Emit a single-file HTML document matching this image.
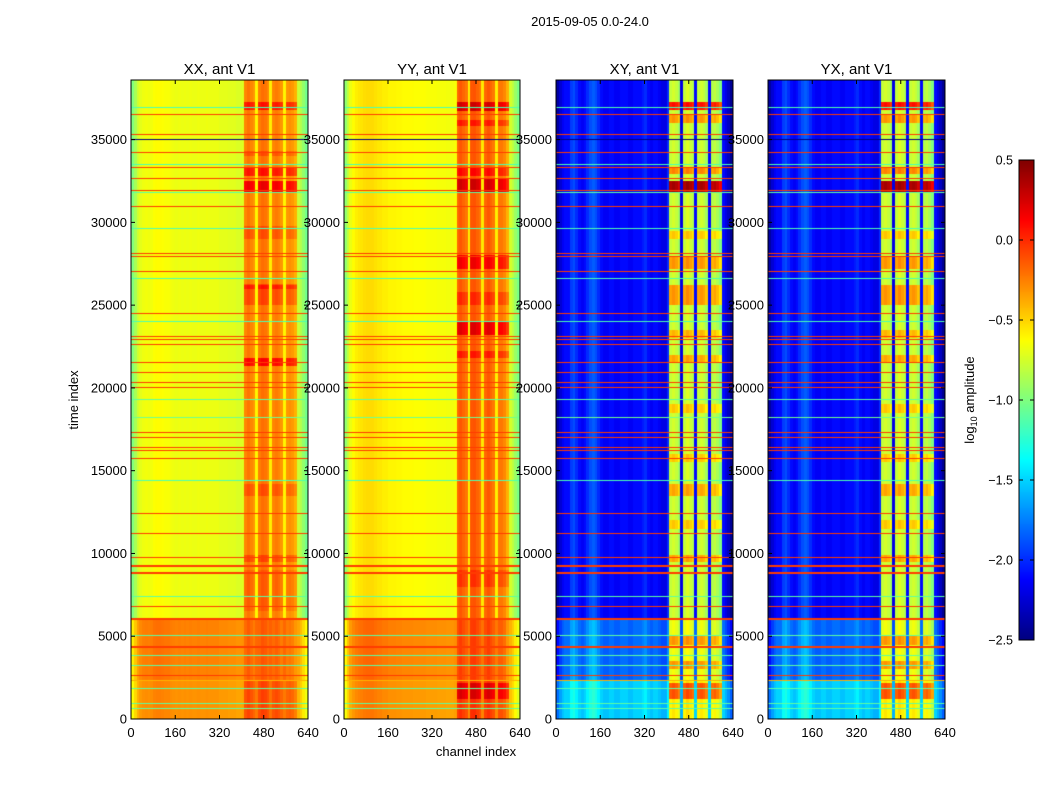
<!DOCTYPE html>
<html><head><meta charset="utf-8">
<style>
body{margin:0;background:#fff;width:1050px;height:800px;overflow:hidden;position:relative;font-family:"Liberation Sans",sans-serif}
canvas{position:absolute}
svg{position:absolute;left:0;top:0}
</style></head>
<body>
<canvas id="c0" width="177" height="639" style="left:131px;top:80px"></canvas>
<canvas id="c1" width="176" height="639" style="left:344px;top:80px"></canvas>
<canvas id="c2" width="177" height="639" style="left:556px;top:80px"></canvas>
<canvas id="c3" width="177" height="639" style="left:768px;top:80px"></canvas>
<canvas id="cb" width="15" height="480" style="left:1019px;top:160px"></canvas>
<svg id="ov" width="1050" height="800"></svg>
<script>
// ---- data ----
const panelTitles = ["XX, ant V1","YY, ant V1","XY, ant V1","YX, ant V1"];
const yTicks = [0,5000,10000,15000,20000,25000,30000,35000];
const xTicks = [0,160,320,480,640];
const cbTicks = [-2.5,-2.0,-1.5,-1.0,-0.5,0.0,0.5];
const tMax = 38600;
// column profiles, 64 bands of 10 channels
const profXX = [-1.0,-0.88,-0.76,-0.7,-0.67,-0.66,-0.67,-0.66,-0.63,-0.62,-0.62,-0.63,-0.64,-0.64,-0.66,-0.67,-0.68,-0.67,-0.68,-0.67,-0.68,-0.67,-0.68,-0.68,-0.67,-0.68,-0.68,-0.67,-0.68,-0.68,-0.68,-0.68,-0.7,-0.7,-0.7,-0.71,-0.71,-0.71,-0.73,-0.73,-0.72,-0.27,-0.22,-0.27,-0.32,-0.6,-0.25,-0.2,-0.22,-0.27,-0.58,-0.27,-0.24,-0.27,-0.32,-0.6,-0.32,-0.3,-0.33,-0.4,-0.78,-0.85,-0.94,-1.04];
const profYY = [-0.95,-0.8,-0.68,-0.62,-0.58,-0.56,-0.55,-0.53,-0.52,-0.52,-0.52,-0.54,-0.56,-0.56,-0.58,-0.58,-0.6,-0.6,-0.6,-0.61,-0.61,-0.62,-0.62,-0.62,-0.62,-0.63,-0.63,-0.63,-0.63,-0.63,-0.64,-0.64,-0.64,-0.64,-0.65,-0.65,-0.65,-0.66,-0.66,-0.66,-0.64,-0.18,-0.13,-0.18,-0.23,-0.58,-0.13,-0.12,-0.17,-0.22,-0.56,-0.18,-0.13,-0.18,-0.23,-0.58,-0.23,-0.23,-0.28,-0.4,-0.75,-0.82,-0.92,-1.02];
const profXY = [-2.4,-2.25,-2.15,-2.1,-2.1,-1.95,-1.9,-2.0,-2.1,-2.15,-2.1,-2.0,-1.9,-1.85,-1.9,-2.0,-2.1,-2.15,-2.15,-2.1,-2.1,-2.15,-2.15,-2.1,-2.1,-2.1,-2.15,-2.15,-2.1,-2.1,-2.1,-2.05,-2.0,-2.1,-2.15,-2.1,-2.1,-2.15,-2.2,-2.2,-2.0,-0.8,-0.75,-0.8,-0.9,-2.2,-0.8,-0.72,-0.78,-0.85,-2.1,-0.8,-0.76,-0.8,-0.9,-2.1,-0.85,-0.8,-0.88,-1.0,-2.1,-2.2,-2.3,-2.45];
const profYX = profXY.slice();
const profiles = [profXX, profYY, profXY, profYX];
// time segments
const segStart = [0,2300,6100];
const segEnd   = [2300,6100,38600];
const bgOffXX = [0.37,0.42,0], bandOffXX = [0.15,0.08,0];
const bgOffYY = [0.3,0.35,0], bandOffYY = [0.12,0.08,0];
const bgOffXY = [0.6,0.3,0], bandOffXY = [0.2,0.1,0];
const bgOffs = [bgOffXX,bgOffYY,bgOffXY,bgOffXY];
const bandOffs = [bandOffXX,bandOffYY,bandOffXY,bandOffXY];
// band-region blocks: start, end, added value
const blkStartXX = [31800,36800,32800,21300,25000,29000,9500,26000,34000,6500,13500], blkEndXX=[32500,37300,33300,21800,26200,29800,9900,26300,34300,9000,14200], blkValXX=[0.4,0.3,0.3,0.35,0.15,0.12,0.15,0.15,0.12,0.08,0.12];
const blkStartYY = [31800,36700,32800,23200,27200,21800,1200,8000,25000,35800], blkEndYY=[32600,37300,33300,24000,28000,22200,2200,9000,25800,36200], blkValYY=[0.4,0.4,0.25,0.35,0.3,0.2,0.25,0.12,0.15,0.2];
const blkStartXY = [31800,36800,25000,13500,27200,21500,1200,9500,36000,32900,23000,29000,4500,3000,18500,15500,11500], blkEndXY=[32500,37300,26200,14200,27900,22000,2200,9900,36500,33300,23500,29500,5000,3500,19000,16000,12000], blkValXY=[1.15,0.85,0.45,0.4,0.45,0.4,0.45,0.4,0.45,0.5,0.35,0.3,0.35,0.35,0.3,0.3,0.3];
const blkStart=[blkStartXX,blkStartYY,blkStartXY,blkStartXY], blkEnd=[blkEndXX,blkEndYY,blkEndXY,blkEndXY], blkVal=[blkValXX,blkValYY,blkValXY,blkValXY];
// horizontal RFI lines: time, duration, value
const redT = [36500,35300,35000,34200,33300,32600,31900,30900,28100,27900,27000,24500,23100,22900,22600,21500,20900,20300,20000,17300,17000,16400,16200,15700,12400,11200,9700,9200,8800,6800,6000,4300,2600,2300];
const redD = [40,40,40,80,40,40,60,60,40,100,40,40,60,40,40,40,40,40,60,60,60,40,40,40,40,40,60,140,120,40,100,100,60,100];
const redV = [-0.05,-0.05,-2.5,-0.05,-0.05,-0.05,-0.05,-0.05,-0.05,-0.05,-0.05,-0.05,-0.05,-0.05,-0.05,-0.05,-0.05,-0.05,-0.05,-0.05,-0.05,-0.05,-0.05,-0.05,-0.05,-0.05,-0.05,-0.05,-0.05,-0.05,-0.05,-0.05,-0.05,-0.4];
const cyanT = [36900,33500,31800,29600,26600,24000,19300,18200,14400,7400,5000,3800,3200,1800,900,600];
const cyanD = [40,40,40,40,40,40,40,80,40,40,60,40,40,40,40,40];
const cyanV = [-1.15,-1.15,-1.1,-1.15,-1.15,-1.15,-1.1,-1.05,-1.15,-1.1,-1.1,-1.1,-1.1,-1.1,-1.1,-1.1];
const vmin=-2.5, vmax=0.5;

function jet(v){
  let x=(v-vmin)/(vmax-vmin); x=Math.max(0,Math.min(1,x));
  const f=(a)=>Math.max(0,Math.min(1,a));
  const r=f(1.5-Math.abs(4*x-3)), g=f(1.5-Math.abs(4*x-2)), b=f(1.5-Math.abs(4*x-1));
  return [r*255|0,g*255|0,b*255|0];
}
const cx=(p)=>[131,344,556,768][p];
const W=[177,176,177,177];
function yOf(t){return 719-t/tMax*639;}
function xOf(p,c){return cx(p)+c/640*W[p];}
function rowsOf(t,d,h){
  const a=Math.floor(h-(t+d/2)/tMax*h), b=Math.floor(h-(t-d/2)/tMax*h);
  const r=[]; for(let y=a;y<=Math.max(a,b-1);y++) r.push(y); return r;
}

for(let p=0;p<4;p++){
  const cv=document.getElementById('c'+p), ctx=cv.getContext('2d');
  const w=cv.width,h=cv.height, img=ctx.createImageData(w,h);
  const prof=profiles[p];
  const lineRow=new Array(h).fill(null);
  for(let k=0;k<cyanT.length;k++) rowsOf(cyanT[k],cyanD[k],h).forEach(y=>{if(y>=0&&y<h)lineRow[y]=cyanV[k];});
  for(let k=0;k<redT.length;k++) rowsOf(redT[k],redD[k],h).forEach(y=>{if(y>=0&&y<h)lineRow[y]=redV[k];});
  for(let y=0;y<h;y++){
    const t=(h-0.5-y)/h*tMax;
    let s=0; for(let k=0;k<segStart.length;k++) if(t>=segStart[k]&&t<segEnd[k]) s=k;
    let blk=0; for(let k=0;k<blkStart[p].length;k++) if(t>=blkStart[p][k]&&t<blkEnd[p][k]) blk+=blkVal[p][k];
    const line=lineRow[y];
    for(let x=0;x<w;x++){
      const c=(x+0.5)/w*640, bi=Math.min(63,Math.floor(c/10));
      const inBand = c>=410 && c<600 && prof[bi]>(p<2?-0.5:-1.5);
      let v = line!==null ? line : prof[bi] + bgOffs[p][s]*(inBand?0:1) + (inBand?bandOffs[p][s]+blk:0);
      const col=jet(v), i=(y*w+x)*4;
      img.data[i]=col[0];img.data[i+1]=col[1];img.data[i+2]=col[2];img.data[i+3]=255;
    }
  }
  ctx.putImageData(img,0,0);
}
// colorbar
(function(){const cv=document.getElementById('cb'),ctx=cv.getContext('2d');
for(let y=0;y<480;y++){const v=vmax-(y+0.5)/480*(vmax-vmin);const c=jet(v);ctx.fillStyle=`rgb(${c[0]},${c[1]},${c[2]})`;ctx.fillRect(0,y,15,1);}})();

// overlay
const NS='http://www.w3.org/2000/svg', ov=document.getElementById('ov');
function el(tag,attrs,txt){const e=document.createElementNS(NS,tag);for(const k in attrs)e.setAttribute(k,attrs[k]);if(txt!==undefined)e.textContent=txt;ov.appendChild(e);return e;}
let e=el('text',{x:590,y:26,'text-anchor':'middle','font-size':13,fill:'#000'},'2015-09-05 0.0-24.0');


for(let p=0;p<4;p++){
  const x0=cx(p), x1=cx(p)+W[p];
  e=el('rect',{x:x0,y:80,width:W[p],height:639,fill:'none',stroke:'#000','stroke-width':1});
  
  
  e=el('text',{x:(x0+x1)/2,y:74,'text-anchor':'middle','font-size':15,fill:'#000'},panelTitles[p]);
  
  
  yTicks.forEach(t=>{const y=yOf(t);
    el('line',{x1:x0,x2:x0+4,y1:y,y2:y,stroke:'#000'});el('line',{x1:x1,x2:x1-4,y1:y,y2:y,stroke:'#000'});
    e=el('text',{x:x0-4,y:y+4.5,'text-anchor':'end','font-size':13,fill:'#000'},String(t));
    
    
  });
  xTicks.forEach(c=>{const x=xOf(p,c);
    el('line',{x1:x,x2:x,y1:719,y2:715,stroke:'#000'});el('line',{x1:x,x2:x,y1:80,y2:84,stroke:'#000'});
    e=el('text',{x:x,y:737,'text-anchor':'middle','font-size':13,fill:'#000'},String(c));
    
    
  });
}
e=el('text',{x:78,y:400,'text-anchor':'middle','font-size':13,fill:'#000',transform:'rotate(-90 78 400)'},'time index');


e=el('text',{x:476,y:756,'text-anchor':'middle','font-size':13,fill:'#000'},'channel index');


e=el('rect',{x:1019,y:160,width:15,height:480,fill:'none',stroke:'#000'});


cbTicks.forEach(v=>{const y=160+(vmax-v)/(vmax-vmin)*480;
  el('line',{x1:1019,x2:1023,y1:y,y2:y,stroke:'#000'});el('line',{x1:1034,x2:1030,y1:y,y2:y,stroke:'#000'});
  e=el('text',{x:1013,y:y+4.5,'text-anchor':'end','font-size':12.5,fill:'#000'},(v<0?'\u2212':'')+Math.abs(v).toFixed(1));
  
  
});
e=el('text',{x:974,y:400,'text-anchor':'middle','font-size':13,fill:'#000',transform:'rotate(-90 974 400)'});


e.innerHTML='log<tspan font-size="9" dy="3">10</tspan><tspan dy="-3"> amplitude</tspan>';
</script>
</body></html>
